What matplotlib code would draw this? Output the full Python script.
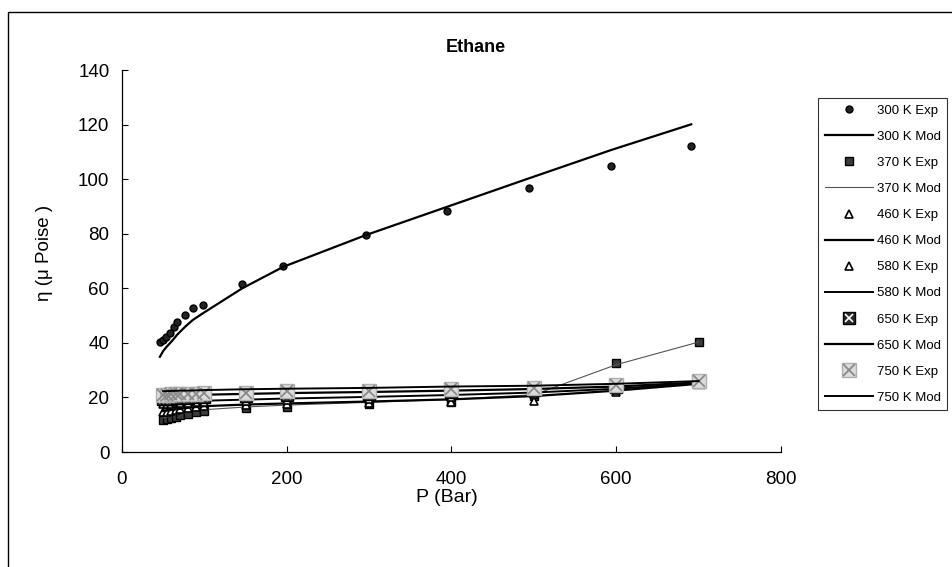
import matplotlib
matplotlib.use("Agg")
import matplotlib.pyplot as plt
from matplotlib.patches import Rectangle
from matplotlib.legend_handler import HandlerTuple

plt.rcParams['font.family'] = ['Liberation Sans', 'DejaVu Sans']

# 300 K data (experimental and model at the same pressures)
p_300 = [46, 50, 54, 58, 63, 67, 77, 86, 98, 146, 196, 296, 395, 494, 594, 691]
exp_300 = [40.4, 41.2, 42.3, 43.6, 45.7, 47.8, 50.2, 52.7, 53.9, 61.6, 68.3, 79.5, 88.4, 96.6, 104.9, 112.2]
mod_300 = [34.9, 37.0, 38.5, 39.8, 41.5, 43.0, 46.0, 48.4, 50.8, 60.0, 67.9, 79.5, 89.9, 100.3, 110.7, 120.1]

# Higher temperatures share one pressure grid
p_hi = [50, 55, 60, 65, 70, 80, 90, 100, 150, 200, 300, 400, 500, 600, 700]
exp_370 = [11.8, 12.2, 12.6, 13.0, 13.4, 14.0, 14.6, 15.0, 16.0, 16.5, 17.5, 18.5, 20.5, 32.5, 40.5]
mod_370 = [12.5, 12.9, 13.3, 13.7, 14.0, 14.6, 15.1, 15.5, 16.5, 17.2, 18.2, 19.3, 21.0, 32.0, 40.3]
exp_460 = [14.5, 14.8, 15.1, 15.4, 15.7, 16.1, 16.5, 16.8, 17.2, 17.5, 17.8, 18.4, 18.6, 22.0, 25.0]
mod_460 = [15.0, 15.2, 15.4, 15.6, 15.8, 16.2, 16.5, 16.8, 17.4, 17.8, 18.5, 19.3, 20.5, 22.5, 25.0]
exp_580 = [17.5, 17.6, 17.7, 17.8, 17.9, 18.1, 18.2, 18.3, 18.7, 19.0, 19.6, 20.3, 21.2, 22.8, 25.0]
mod_580 = [18.0, 18.1, 18.2, 18.3, 18.4, 18.5, 18.7, 18.8, 19.2, 19.6, 20.2, 20.9, 21.8, 23.2, 25.2]
exp_650 = [19.5, 19.6, 19.6, 19.7, 19.8, 19.9, 20.0, 20.1, 20.5, 20.8, 21.3, 21.9, 22.6, 23.8, 25.5]
mod_650 = [20.5, 20.5, 20.6, 20.6, 20.7, 20.8, 20.9, 21.0, 21.3, 21.6, 22.0, 22.5, 23.1, 24.0, 25.5]
exp_750 = [21.0, 21.0, 21.1, 21.1, 21.2, 21.3, 21.4, 21.5, 21.8, 22.2, 22.5, 23.2, 23.5, 24.7, 26.2]
mod_750 = [22.3, 22.3, 22.4, 22.4, 22.5, 22.5, 22.6, 22.7, 23.0, 23.2, 23.5, 24.0, 24.3, 25.0, 26.0]

x_ticks = [0, 200, 400, 600, 800]
y_ticks = [0, 20, 40, 60, 80, 100, 120, 140]

fig = plt.figure(figsize=(9.53, 5.67), dpi=100)
ax = fig.add_axes([0.128, 0.2028, 0.6915, 0.6737])

# outer chart frame
fig.patches.append(Rectangle((8 / 953, -0.01), 1.0, 1 - 12 / 567 + 0.01,
                             transform=fig.transFigure, fill=False,
                             edgecolor='black', linewidth=1.0))

handles = []
labels = []

h, = ax.plot(p_300, exp_300, linestyle='none', marker='o', markersize=5,
             markerfacecolor='#222222', markeredgecolor='black')
handles.append(h); labels.append('300 K Exp')
h, = ax.plot(p_300, mod_300, color='black', linewidth=1.6)
handles.append(h); labels.append('300 K Mod')

h, = ax.plot(p_hi, exp_370, linestyle='none', marker='s', markersize=6,
             markerfacecolor='#3a3a3a', markeredgecolor='black')
handles.append(h); labels.append('370 K Exp')
h, = ax.plot(p_hi, mod_370, color='#555555', linewidth=0.8)
handles.append(h); labels.append('370 K Mod')

h, = ax.plot(p_hi, exp_460, linestyle='none', marker='^', markersize=6,
             markerfacecolor='white', markeredgecolor='black', markeredgewidth=1.2)
handles.append(h); labels.append('460 K Exp')
h, = ax.plot(p_hi, mod_460, color='black', linewidth=1.6)
handles.append(h); labels.append('460 K Mod')

h, = ax.plot(p_hi, exp_580, linestyle='none', marker='^', markersize=6,
             markerfacecolor='white', markeredgecolor='black', markeredgewidth=1.2)
handles.append(h); labels.append('580 K Exp')
h, = ax.plot(p_hi, mod_580, color='black', linewidth=1.4)
handles.append(h); labels.append('580 K Mod')

hs, = ax.plot(p_hi, exp_650, linestyle='none', marker='s', markersize=8,
              markerfacecolor='#2a2a2a', markeredgecolor='black')
hx, = ax.plot(p_hi, exp_650, linestyle='none', marker='x', markersize=6,
              markeredgecolor='white', markeredgewidth=1.2)
handles.append((hs, hx)); labels.append('650 K Exp')
h, = ax.plot(p_hi, mod_650, color='black', linewidth=1.6)
handles.append(h); labels.append('650 K Mod')

hs, = ax.plot(p_hi, exp_750, linestyle='none', marker='s', markersize=10,
              markerfacecolor='#dcdcdc', markeredgecolor='#b0b0b0')
hx, = ax.plot(p_hi, exp_750, linestyle='none', marker='x', markersize=8,
              markeredgecolor='#8a8a8a', markeredgewidth=1.3)
handles.append((hs, hx)); labels.append('750 K Exp')
h, = ax.plot(p_hi, mod_750, color='black', linewidth=1.4)
handles.append(h); labels.append('750 K Mod')

ax.set_xlim(0, 800)
ax.set_ylim(0, 140)
ax.set_xticks(x_ticks)
ax.set_yticks(y_ticks)
ax.tick_params(axis='both', direction='in', length=4, width=0.8,
               labelsize=13.5, colors='black')
ax.tick_params(axis='x', pad=14)
ax.tick_params(axis='y', pad=9)
for side in ('top', 'right'):
    ax.spines[side].set_visible(False)
for side in ('left', 'bottom'):
    ax.spines[side].set_linewidth(0.9)

fig.text(0.4995, 1 - 47 / 567, 'Ethane', ha='center', va='center',
         fontsize=13, fontweight='bold', family=['Liberation Sans Narrow', 'Liberation Sans'])
fig.text(447 / 953, 1 - 498 / 567, 'P (Bar)', ha='center', va='center', fontsize=14)
fig.text(45 / 953, 1 - 253 / 567, 'η (μ Poise )', ha='center', va='center',
         rotation=90, fontsize=13.5)

leg = fig.legend(handles, labels, loc='upper left',
                 bbox_to_anchor=(818 / 953, 1 - 98 / 567),
                 fontsize=9.5, frameon=True, fancybox=False, shadow=False,
                 handlelength=3.7, handletextpad=0.25, labelspacing=1.05,
                 borderpad=0.5, borderaxespad=0.0,
                 handler_map={tuple: HandlerTuple(ndivide=1)})
leg.get_frame().set_edgecolor('black')
leg.get_frame().set_linewidth(0.8)

fig.savefig('out.png', dpi=100)
